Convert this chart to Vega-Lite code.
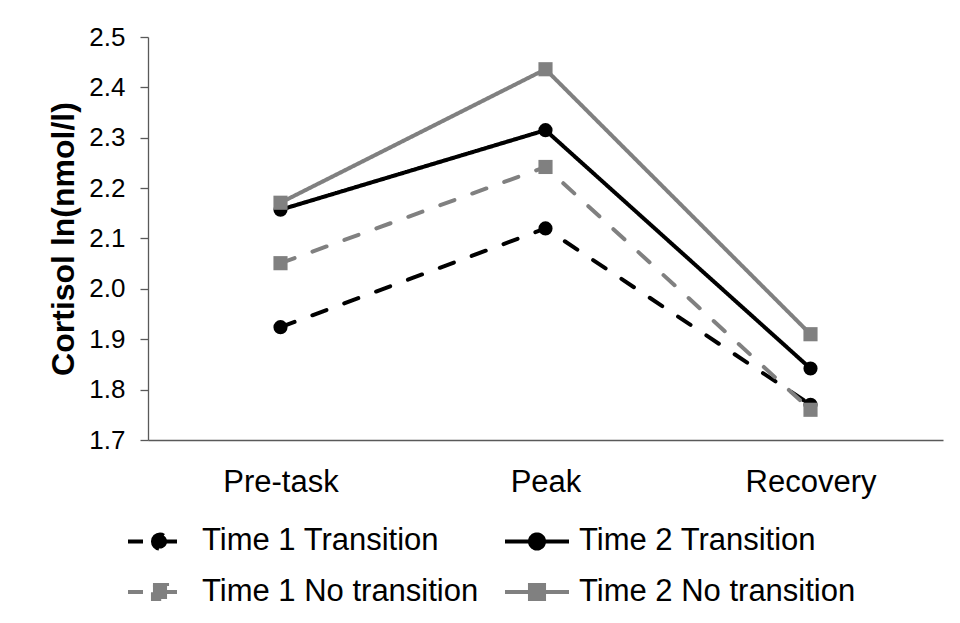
{
  "$schema": "https://vega.github.io/schema/vega-lite/v6.json",
  "width": 795,
  "height": 403,
  "autosize": {"type": "none"},
  "padding": {"left": 148, "top": 37, "right": 17, "bottom": 183},
  "background": "white",
  "config": {
    "view": {"stroke": null},
    "font": "Liberation Sans"
  },
  "data": {
    "values": [
      {"time": "Pre-task", "series": "Time 1 Transition", "group": "Transition", "value": 1.924},
      {"time": "Peak", "series": "Time 1 Transition", "group": "Transition", "value": 2.12},
      {"time": "Recovery", "series": "Time 1 Transition", "group": "Transition", "value": 1.77},
      {"time": "Pre-task", "series": "Time 2 Transition", "group": "Transition", "value": 2.157},
      {"time": "Peak", "series": "Time 2 Transition", "group": "Transition", "value": 2.315},
      {"time": "Recovery", "series": "Time 2 Transition", "group": "Transition", "value": 1.842},
      {"time": "Pre-task", "series": "Time 1 No transition", "group": "No transition", "value": 2.051},
      {"time": "Peak", "series": "Time 1 No transition", "group": "No transition", "value": 2.242},
      {"time": "Recovery", "series": "Time 1 No transition", "group": "No transition", "value": 1.76},
      {"time": "Pre-task", "series": "Time 2 No transition", "group": "No transition", "value": 2.171},
      {"time": "Peak", "series": "Time 2 No transition", "group": "No transition", "value": 2.436},
      {"time": "Recovery", "series": "Time 2 No transition", "group": "No transition", "value": 1.91}
    ]
  },
  "encoding": {
    "x": {
      "field": "time",
      "type": "nominal",
      "sort": ["Pre-task", "Peak", "Recovery"],
      "scale": {"type": "point", "padding": 0.5},
      "axis": {
        "title": null,
        "labelAngle": 0,
        "ticks": false,
        "labelFontSize": 31,
        "labelColor": "#000000",
        "labelPadding": 27,
        "domainColor": "#595959",
        "domainWidth": 1.3
      }
    },
    "y": {
      "field": "value",
      "type": "quantitative",
      "scale": {"domain": [1.7, 2.5], "nice": false, "zero": false},
      "axis": {
        "title": "Cortisol ln(nmol/l)",
        "titleFontSize": 32,
        "titleFontWeight": "bold",
        "titleColor": "#000000",
        "titlePadding": 8,
        "values": [1.7, 1.8, 1.9, 2.0, 2.1, 2.2, 2.3, 2.4, 2.5],
        "format": ".1f",
        "labelFontSize": 26,
        "labelColor": "#000000",
        "labelPadding": 15,
        "tickSize": 8,
        "tickColor": "#595959",
        "tickWidth": 1.3,
        "domainColor": "#595959",
        "domainWidth": 1.3,
        "grid": false
      }
    },
    "color": {
      "field": "series",
      "type": "nominal",
      "scale": {
        "domain": ["Time 1 Transition", "Time 1 No transition", "Time 2 Transition", "Time 2 No transition"],
        "range": ["#000000", "#808080", "#000000", "#808080"]
      },
      "legend": {
        "title": null,
        "orient": "none",
        "legendX": -22,
        "legendY": 470,
        "columns": 2,
        "padding": 0,
        "rowPadding": 1,
        "columnPadding": 18,
        "labelFontSize": 31,
        "labelColor": "#000000",
        "labelLimit": 0,
        "labelOffset": 8,
        "symbolSize": 4096,
        "symbolStrokeWidth": 4,
        "encode": {
          "symbols": {
            "update": {
              "shape": {"signal": "indexof(datum.value, 'No') >= 0 ? 'M-1,0H1M-0.22,-0.22H0.22V0.22H-0.22Z' : 'M-1,0H1M-0.22,0A0.22,0.22,0,1,1,0.22,0A0.22,0.22,0,1,1,-0.22,0Z'"},
              "strokeWidth": {"value": 4}
            }
          }
        }
      }
    }
  },
  "layer": [
    {
      "mark": {"type": "line", "strokeWidth": 4, "strokeCap": "round"},
      "encoding": {
        "strokeDash": {
          "field": "series",
          "type": "nominal",
          "scale": {
            "domain": ["Time 1 Transition", "Time 1 No transition", "Time 2 Transition", "Time 2 No transition"],
            "range": [[15, 19], [15, 19], [1, 0], [1, 0]]
          }
        }
      }
    },
    {
      "transform": [{"filter": "datum.group == 'Transition'"}],
      "mark": {"type": "point", "shape": "circle", "filled": true, "opacity": 1, "size": 200}
    },
    {
      "transform": [{"filter": "datum.group == 'No transition'"}],
      "mark": {"type": "point", "shape": "square", "filled": true, "opacity": 1, "size": 200}
    }
  ]
}
